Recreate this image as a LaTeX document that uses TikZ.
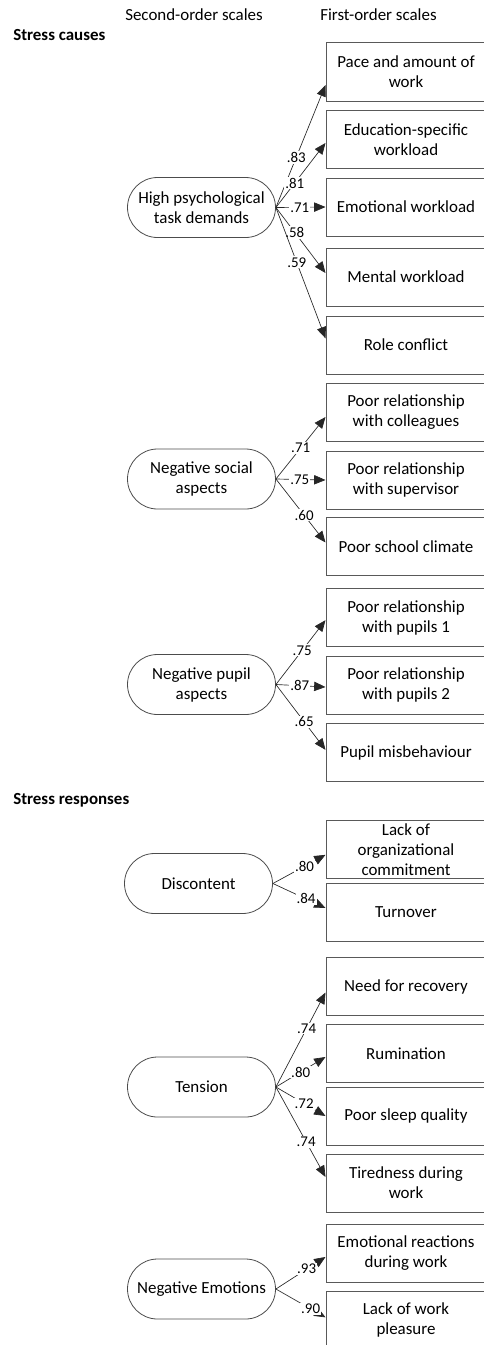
\documentclass[tikz,border=0pt]{standalone}
\usepackage{fontspec}
\setmainfont{Carlito}
\usetikzlibrary{arrows.meta}
\usetikzlibrary{shapes.misc}

\begin{document}
\begin{tikzpicture}[x=.75pt, y=-.75pt,
  fobox/.style={draw=black!65, line width=.75pt, minimum width=120pt, minimum height=43.5pt,
    inner sep=1pt, align=center, font=\fontsize{12.7}{15}\selectfont},
  sobox/.style={draw=black!70, line width=.6pt, rounded rectangle, minimum width=113pt,
    minimum height=45pt, inner sep=1pt, align=center, font=\fontsize{12.7}{15}\selectfont},
  arr/.style={draw=black!85, line width=.5pt, -{Triangle[length=8.5pt, width=7pt]}},
  ld/.style={fill=white, inner sep=.8pt, font=\fontsize{11.2}{13}\selectfont},
  head/.style={anchor=base west, inner sep=0pt, font=\fontsize{12.7}{15}\selectfont}]
\useasboundingbox (0,0) rectangle (484,1345);
\node[head] (sohead) at (125,21) {Second-order scales};
\node[head] (fohead) at (320,21) {First-order scales};
\node[head, font=\fontsize{12.7}{15}\selectfont\bfseries] (causes) at (13,41) {Stress causes};
\node[head, font=\fontsize{12.7}{15}\selectfont\bfseries] (responses) at (13,804) {Stress responses};
\foreach \n/\y/\t in {pace/72/{Pace and amount of\\work}, edu/139.5/{Education-specific\\workload},
  emo/207/{Emotional workload}, mental/277/{Mental workload}, role/345/{Role conflict},
  coll/412/{Poor relationship\\with colleagues}, sup/480/{Poor relationship\\with supervisor},
  climate/546.5/{Poor school climate}, pupA/617.5/{Poor relationship\\with pupils 1},
  pupB/685/{Poor relationship\\with pupils 2}, misb/752.5/{Pupil misbehaviour},
  org/849.5/{Lack of\\organizational\\commitment}, turn/912.5/{Turnover},
  recov/986.5/{Need for recovery}, rumin/1053.5/{Rumination}, sleep/1116/{Poor sleep quality},
  tired/1183/{Tiredness during\\work}, react/1253.5/{Emotional reactions\\during work},
  pleas/1320/{Lack of work\\pleasure}}
  \node[fobox] (\n) at (406,\y) {\t};
\foreach \n/\x/\y/\t in {demands/201.5/207.5/{High psychological\\task demands},
  social/201.5/479/{Negative social\\aspects}, pupil/201.5/684.5/{Negative pupil\\aspects},
  discont/198.5/883.5/{Discontent}, tension/201.5/1087/{Tension},
  negemo/201.5/1289/{Negative Emotions}}
  \node[sobox] (\n) at (\x,\y) {\t};
\foreach \a/\b/\v/\p/\s in {demands/pace/.83/.41/-9.75, demands/edu/.81/.38/-2.6,
  demands/emo/.71/.48/0, demands/mental/.58/.38/3, demands/role/.59/.42/5,
  social/coll/.71/.5/-3.75, social/sup/.75/.48/0, social/climate/.60/.57/3,
  pupil/pupA/.75/.53/-2, pupil/pupB/.87/.48/-1.5, pupil/misb/.65/.57/2,
  discont/org/.80/.6/-4, discont/turn/.84/.63/3.4,
  tension/recov/.74/.62/-4.5, tension/rumin/.80/.5/-2.6, tension/sleep/.72/.57/0,
  tension/tired/.74/.61/4.5, negemo/react/.93/.62/-2.6, negemo/pleas/.90/.7/2}
  \draw[arr] (\a.east) -- node[ld, pos=\p] {\v} ([yshift=\s pt]\b.west);
\end{tikzpicture}
\end{document}
